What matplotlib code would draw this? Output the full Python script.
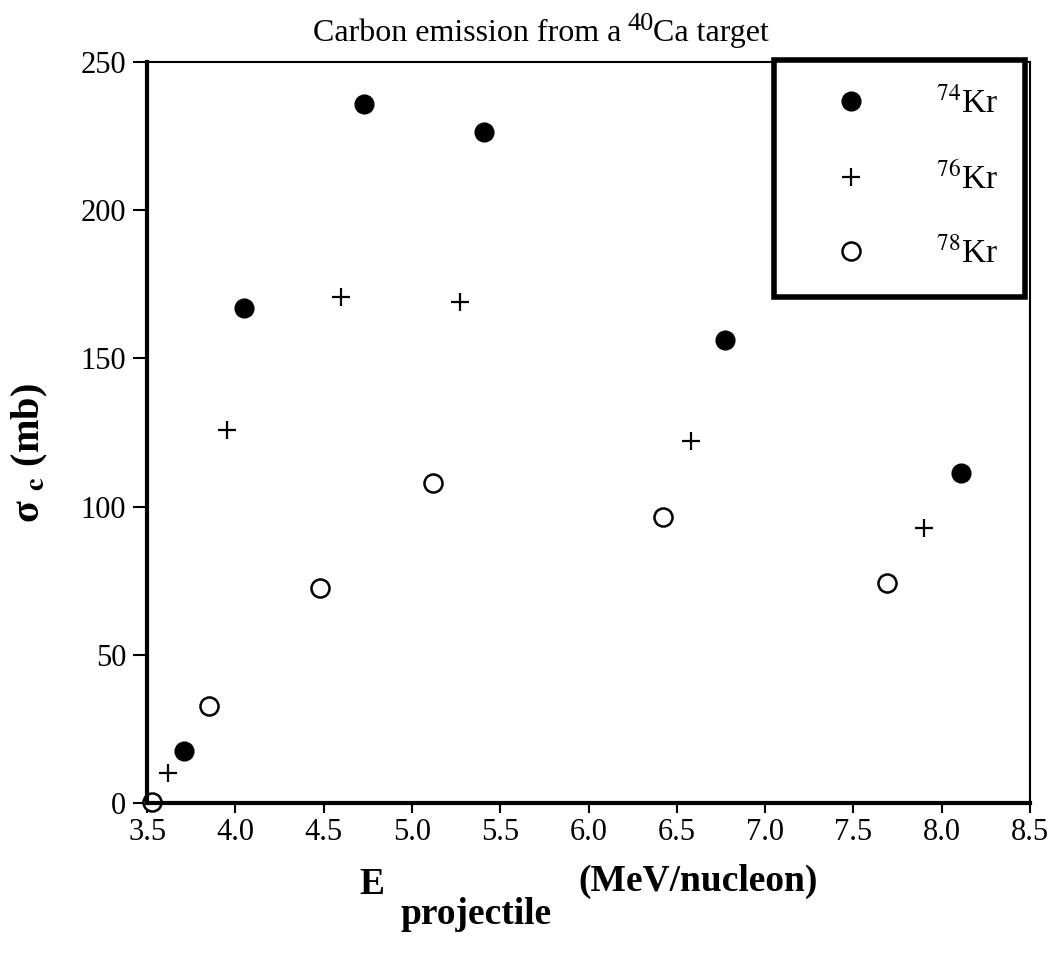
import matplotlib
matplotlib.use("Agg")
from matplotlib import pyplot as plt

plt.rcParams['font.family'] = ['Liberation Serif', 'DejaVu Serif']
plt.rcParams['mathtext.fontset'] = 'stix'

# beam energy (MeV/nucleon) and carbon emission cross section (mb)
e_kr74 = [3.71, 4.05, 4.73, 5.41, 6.77, 8.11]
sig_kr74 = [17.6, 166.9, 236.0, 226.3, 156.2, 111.3]

e_kr76 = [3.62, 3.95, 4.60, 5.27, 6.58, 7.90]
sig_kr76 = [10.0, 125.9, 170.8, 169.1, 122.3, 92.7]

e_kr78 = [3.53, 3.85, 4.48, 5.12, 6.42, 7.69]
sig_kr78 = [0.4, 32.8, 72.6, 108.1, 96.6, 74.2]

xticks = [3.5, 4.0, 4.5, 5.0, 5.5, 6.0, 6.5, 7.0, 7.5, 8.0, 8.5]
yticks = [0, 50, 100, 150, 200, 250]

fig = plt.figure(figsize=(10.51, 9.59), dpi=100)
ax = fig.add_axes([0.14, 0.1627, 0.84, 0.7726])

ax.plot(e_kr74, sig_kr74, 'o', color='k', markersize=13.5, linestyle='none',
        label=r'$^{74}$Kr')
ax.plot(e_kr76, sig_kr76, '+', color='k', markersize=13, markeredgewidth=1.6,
        linestyle='none', label=r'$^{76}$Kr')
ax.plot(e_kr78, sig_kr78, 'o', markerfacecolor='white', markeredgecolor='k',
        markeredgewidth=1.8, markersize=13, linestyle='none',
        label=r'$^{78}$Kr', clip_on=False)

ax.set_xlim(3.5, 8.5)
ax.set_ylim(0, 250)
ax.set_xticks(xticks)
ax.set_xticklabels(["{:.1f}".format(v) for v in xticks])
ax.set_yticks(yticks)

ax.spines['left'].set_linewidth(3)
ax.spines['bottom'].set_linewidth(3)
ax.spines['top'].set_linewidth(1.5)
ax.spines['right'].set_linewidth(1.5)
ax.tick_params(axis='both', direction='out', width=1.5, labelsize=22)
ax.tick_params(axis='y', length=10, pad=5)
ax.tick_params(axis='x', length=7, pad=4)

# title in pieces so the isotope number is a large superscript
t1 = fig.text(0.298, 0.950, 'Carbon emission from a', fontsize=23,
              ha='left', va='bottom')
t2 = ax.annotate('40', xy=(1, 0), xycoords=t1, xytext=(4, 9),
                 textcoords='offset points', fontsize=19, ha='left', va='bottom')
t3 = ax.annotate('Ca target', xy=(1, 0), xycoords=(t2, t1), xytext=(0, 0),
                 textcoords='offset points', fontsize=23, ha='left', va='bottom')

ax.set_ylabel(r'σ $_{\mathbf{c}}$ (mb)', fontsize=29, fontweight='bold')
ax.yaxis.set_label_coords(-0.110, 0.472)

# x label built from pieces so "projectile" sits as a subscript
fig.text(0.366, 0.068, 'E', fontsize=27, fontweight='bold', ha='right', va='baseline')
fig.text(0.381, 0.037, 'projectile', fontsize=27, fontweight='bold', ha='left', va='baseline')
fig.text(0.550, 0.071, '(MeV/nucleon)', fontsize=27, fontweight='bold', ha='left', va='baseline')

leg = ax.legend(loc='upper right', bbox_to_anchor=(0.9943, 1.0027), fontsize=24,
                frameon=True, fancybox=False, edgecolor='k', framealpha=1,
                labelspacing=1.25, handletextpad=1.05, borderpad=0.8,
                handlelength=3.0, borderaxespad=0)
leg.get_frame().set_linewidth(4)

fig.savefig('out.png', dpi=100)
